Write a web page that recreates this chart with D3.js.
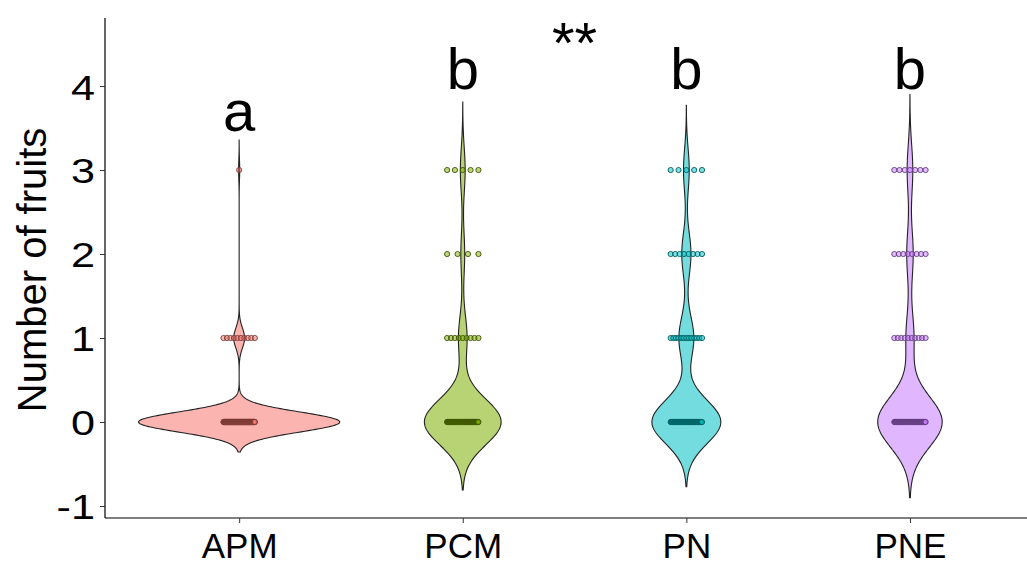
<!DOCTYPE html>
<html>
<head>
<meta charset="utf-8">
<script src="https://cdn.jsdelivr.net/npm/d3@7"></script>
<style>
  body { margin: 0; background: #fff; }
  svg { display: block; font-family: "Liberation Sans", Arial, sans-serif; }
</style>
</head>
<body>
<div id="content"></div>
<script>
// Données

var groups     = ["APM", "PCM", "PN", "PNE"];
var levels     = [0, 1, 2, 3];
// nombre d'observations par niveau (0, 1, 2, 3 fruits)
var countsAPM  = [185, 10, 0, 1];
var countsPCM  = [80, 9, 4, 5];
var countsPN   = [60, 13, 8, 5];
var countsPNE  = [80, 10, 8, 7];
var bandwidths = [0.119, 0.27, 0.257, 0.3];
var letters    = ["a", "b", "b", "b"];
var yTicks     = [-1, 0, 1, 2, 3, 4];
var colors     = ["#F8766D", "#7CAE00", "#00BFC4", "#C77CFF"];

var counts = [countsAPM, countsPCM, countsPN, countsPNE];

// Paramètres graphiques

let width   = 1027,
    height  = 566,
    mLeft   = 105,
    mBottom = 518,
    mTop    = 18;

var svg = d3.select("#content").append("svg")
    .attr("width", width)
    .attr("height", height);

var x = d3.scaleLinear()          // positions discrètes 1..4, comme ggplot
      .domain([0.4, 4.6])
      .range([mLeft, mLeft + 4.2 * 223.6]),
    y = d3.scaleLinear()
      .domain([-1.143, 4.81])
      .range([mBottom, mTop]);

// Densités (noyau gaussien, non tronqué)

function kde(cnt, bw) {
  let n = d3.sum(cnt);
  let obs = levels.filter((l, i) => cnt[i] > 0);
  let lo = d3.min(obs) - 3 * bw, hi = d3.max(obs) + 3 * bw;
  return d3.range(512).map(i => {
    let v = lo + (hi - lo) * i / 511;
    let d = d3.sum(levels, (l, j) =>
      cnt[j] * Math.exp(-0.5 * Math.pow((v - l) / bw, 2)) / (bw * Math.sqrt(2 * Math.PI)));
    return {v: v, d: d / n};
  });
}

var dens = counts.map((c, i) => kde(c, bandwidths[i]));
var maxD = d3.max(dens, ds => d3.max(ds, d => d.d));
var unit = x(1) - x(0);

// Violons

var plot = svg.append("g");

dens.forEach((ds, i) => {
  let cx = x(i + 1);
  let area = d3.area()
      .x0(d => cx - d.d / maxD * 0.45 * unit)
      .x1(d => cx + d.d / maxD * 0.45 * unit)
      .y(d => y(d.v));
  plot.append("path")
      .attr("d", area(ds))
      .attr("fill", colors[i])
      .attr("fill-opacity", 0.55)
      .attr("stroke", "#222")
      .attr("stroke-width", 1.1);
});

// Points

counts.forEach((cnt, i) => {
  let cx = x(i + 1);
  let col = d3.color(colors[i]).darker(2);
  let pts = [];
  cnt.forEach((c, j) => {
    for (let k = 0; k < c; k++) {
      let off = c === 1 ? 0 : -0.07 + 0.14 * k / (c - 1);
      pts.push({x: cx + off * unit, v: levels[j]});
    }
  });
  plot.append("g").selectAll("circle")
    .data(pts)
    .join("circle")
      .attr("cx", d => d.x)
      .attr("cy", d => y(d.v))
      .attr("r", 2.6)
      .attr("fill", colors[i])
      .attr("fill-opacity", 0.5)
      .attr("stroke", col)
      .attr("stroke-width", 0.9);
});

// Axes

let xAxis = svg.append("g")
    .attr("transform", "translate(0," + mBottom + ")")
    .call(d3.axisBottom(x).tickValues([1, 2, 3, 4]).tickFormat((d, i) => groups[i]).tickSizeOuter(0).tickSize(5).tickPadding(6));

let yAxis = svg.append("g")
    .attr("transform", "translate(" + mLeft + ",0)")
    .call(d3.axisLeft(y).tickValues(yTicks).tickFormat(d => String(d)).tickSizeOuter(0).tickSize(5).tickPadding(6));

[xAxis, yAxis].forEach(a => {
  a.select(".domain").attr("stroke", "#000").attr("stroke-width", 1.2);
  a.selectAll(".tick line").attr("stroke", "#333");
  a.selectAll(".tick text")
    .attr("fill", "#000")
    .attr("font-family", "Liberation Sans, Arial, sans-serif");
});
yAxis.select(".domain").attr("d", "M0," + mTop + "V" + mBottom);
xAxis.select(".domain").attr("d", "M" + mLeft + ",0H" + width);
xAxis.selectAll(".tick text").attr("font-size", 35).attr("dy", "0.83em");
// chiffres de l'axe y plus larges dans l'original
yAxis.selectAll(".tick text")
    .attr("font-size", 36)
    .attr("dy", "0.36em")
    .attr("x", -10 / 1.2)
    .attr("transform", "scale(1.2,1)");

svg.append("text")
    .attr("transform", "translate(46," + y(1.81) + ") rotate(-90)")
    .attr("text-anchor", "middle")
    .attr("font-size", 40)
    .text("Number of fruits");

// Lettres de significativité

svg.selectAll(".letter")
  .data(letters)
  .join("text")
    .attr("class", "letter")
    .attr("x", (d, i) => x(i + 1))
    .attr("y", (d, i) => y(i === 0 ? 3.46 : 3.96))
    .attr("text-anchor", "middle")
    .attr("font-size", 58)
    .text(d => d);

svg.append("text")
    .attr("x", x(2.5))
    .attr("y", y(4.27))
    .attr("text-anchor", "middle")
    .attr("font-size", 58)
    .text("**");
</script>
</body>
</html>
